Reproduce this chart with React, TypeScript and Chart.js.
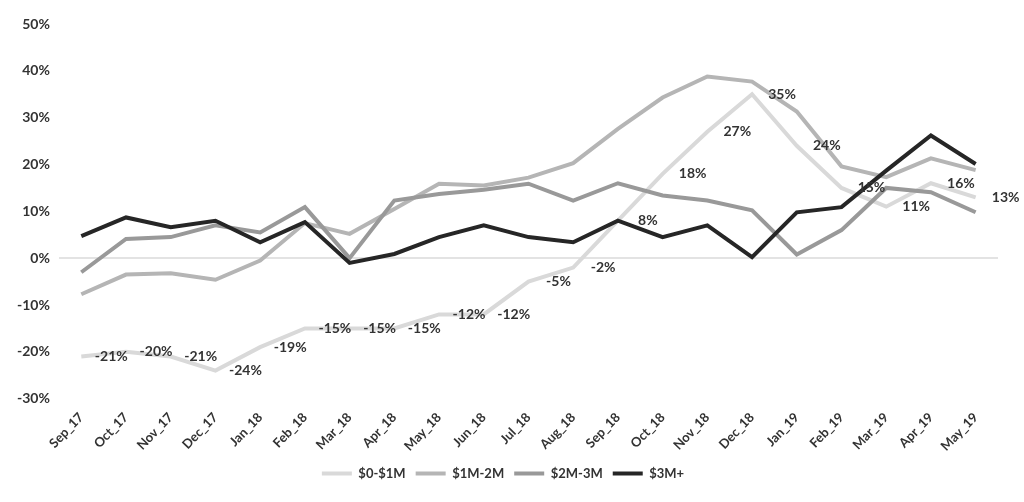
import React, { useEffect, useRef } from "react";
import { Chart, registerables } from "chart.js";

Chart.register(...registerables);

const categories = [
  "Sep_17", "Oct_17", "Nov_17", "Dec_17", "Jan_18", "Feb_18", "Mar_18",
  "Apr_18", "May_18", "Jun_18", "Jul_18", "Aug_18", "Sep_18", "Oct_18",
  "Nov_18", "Dec_18", "Jan_19", "Feb_19", "Mar_19", "Apr_19", "May_19",
];

const seriesNames = ["$0-$1M", "$1M-2M", "$2M-3M", "$3M+"];
const seriesColors = ["#d9d9d9", "#b5b5b5", "#999999", "#262626"];

const s0to1M = [-21, -20, -21, -24, -19, -15, -15, -15, -12, -12, -5, -2, 8, 18, 27, 35, 24, 15, 11, 16, 13];
const s1to2M = [-7.7, -3.5, -3.2, -4.6, -0.5, 7.5, 5.2, 10.5, 15.9, 15.5, 17.2, 20.3, 27.6, 34.3, 38.8, 37.7, 31.3, 19.6, 17.3, 21.3, 18.8];
const s2to3M = [-3.0, 4.1, 4.5, 7.0, 5.5, 10.9, 0, 12.3, 13.7, 14.6, 15.9, 12.3, 16.0, 13.4, 12.3, 10.2, 0.8, 6.0, 15.0, 14.1, 9.8];
const s3Mplus = [4.7, 8.7, 6.6, 8.0, 3.4, 7.7, -1.0, 0.9, 4.5, 7.0, 4.5, 3.4, 8.0, 4.5, 7.0, 0.2, 9.8, 10.9, 18.7, 26.2, 20.1];

const yTicks = [-30, -20, -10, 0, 10, 20, 30, 40, 50];

const FONT = "Lato, 'Open Sans', sans-serif";

const labelPlugin = {
  id: "pointLabels",
  afterDatasetsDraw(chart: any) {
    const ctx = chart.ctx;
    const meta = chart.getDatasetMeta(0);
    const data = chart.data.datasets[0].data as number[];
    ctx.save();
    ctx.font = `bold 14px ${FONT}`;
    ctx.fillStyle = "#333333";
    ctx.textAlign = "center";
    ctx.textBaseline = "middle";
    meta.data.forEach((pt: any, i: number) => {
      ctx.fillText(`${Math.round(data[i])}%`, pt.x + 30, pt.y);
    });
    ctx.restore();
  },
};

export default function App() {
  const ref = useRef<HTMLCanvasElement | null>(null);

  useEffect(() => {
    if (!ref.current) return;
    const all = [s0to1M, s1to2M, s2to3M, s3Mplus];
    const chart = new Chart(ref.current, {
      type: "line",
      data: {
        labels: categories,
        datasets: all.map((d, i) => ({
          label: seriesNames[i],
          data: d,
          borderColor: seriesColors[i],
          backgroundColor: seriesColors[i],
          borderWidth: 4,
          pointRadius: 0,
          tension: 0,
          order: 3 - i,
        })),
      },
      options: {
        animation: false,
        responsive: true,
        maintainAspectRatio: false,
        layout: { padding: { left: 8, right: 26, top: 24, bottom: 12 } },
        plugins: {
          legend: {
            position: "bottom",
            labels: {
              usePointStyle: true,
              pointStyle: "line",
              pointStyleWidth: 30,
              color: "#333333",
              font: { family: FONT, size: 13, weight: "bold" },
              padding: 10,
              sort: (a: any, b: any) => a.datasetIndex - b.datasetIndex,
            },
          },
          tooltip: { enabled: false },
        },
        scales: {
          x: {
            offset: true,
            grid: { display: false },
            border: { display: false },
            ticks: {
              minRotation: 46,
              maxRotation: 46,
              color: "#333333",
              font: { family: FONT, size: 13, weight: "bold" },
              autoSkip: false,
            },
          },
          y: {
            min: -30,
            max: 50,
            afterBuildTicks: (axis: any) => {
              axis.ticks = yTicks.map((v) => ({ value: v }));
            },
            grid: {
              drawTicks: false,
              color: (c: any) => (c.tick && c.tick.value === 0 ? "#e3e3e3" : "rgba(0,0,0,0)"),
              lineWidth: 2,
            },
            border: { display: false },
            ticks: {
              padding: 9,
              color: "#333333",
              font: { family: FONT, size: 14, weight: "bold" },
              callback: (v: any) => `${v}%`,
            },
          },
        },
      },
      plugins: [labelPlugin],
    });
    return () => chart.destroy();
  }, []);

  return (
    <div style={{ position: "fixed", left: 0, top: 0, width: 1024, height: 502, background: "#fff" }}>
      <canvas ref={ref} />
    </div>
  );
}
